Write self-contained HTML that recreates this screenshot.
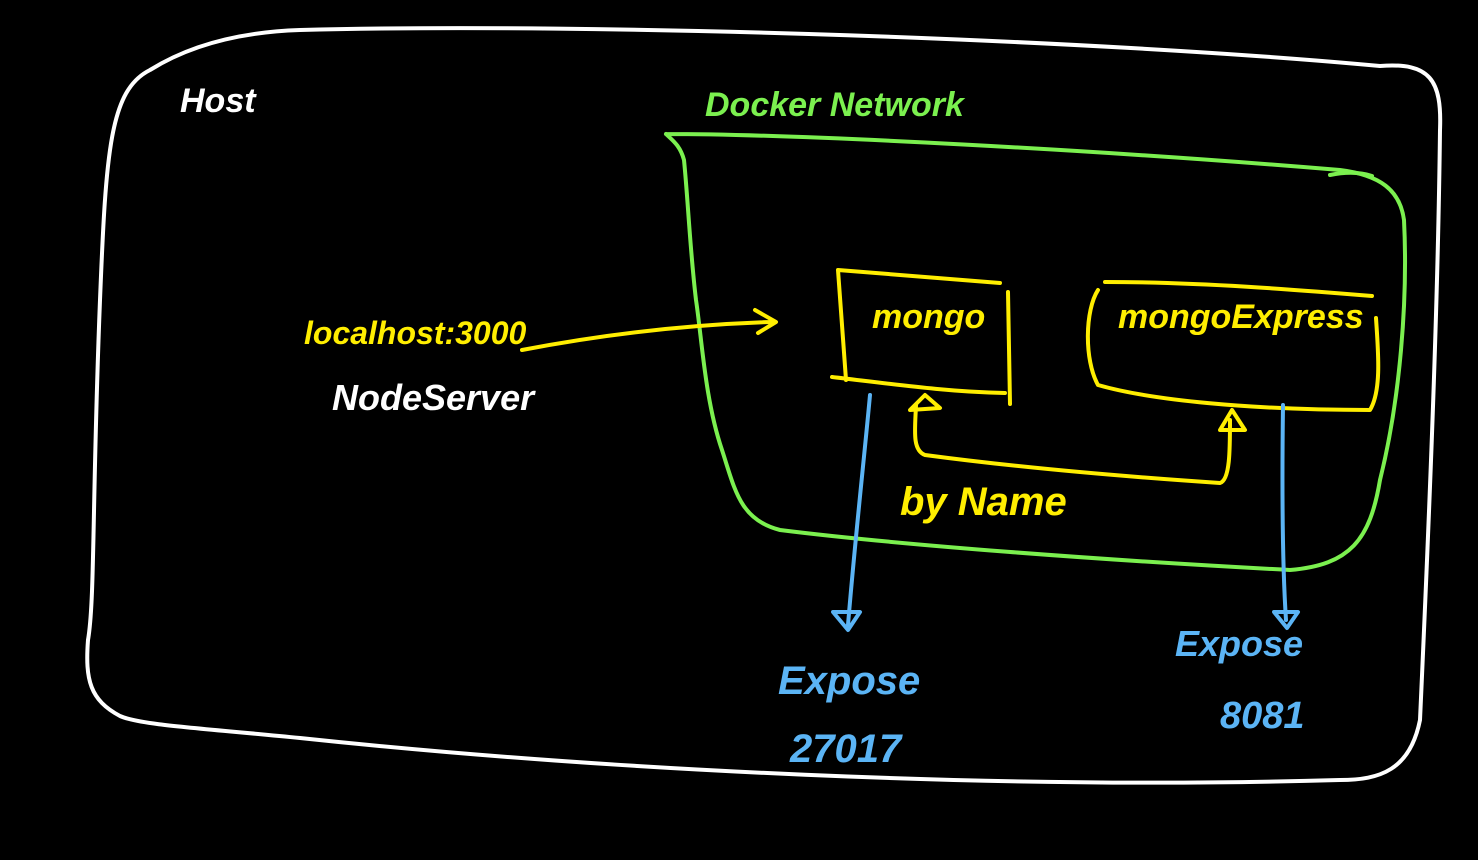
<!DOCTYPE html>
<html><head><meta charset="utf-8"><style>
html,body{margin:0;padding:0;background:#000;}
svg{display:block}
text{font-family:"Liberation Sans",sans-serif;font-style:italic;font-weight:bold;}
</style></head><body>
<svg width="1478" height="860" viewBox="0 0 1478 860" xmlns="http://www.w3.org/2000/svg">
<g fill="none" stroke-linecap="round" stroke-linejoin="round">
<path d="M300,30 C600,22 1100,40 1380,66 C1430,62 1442,80 1440,130 C1438,300 1430,500 1420,720 C1410,770 1380,780 1340,780 C1000,790 600,770 300,738 C200,728 140,725 120,716 C90,700 85,680 88,640 C95,600 92,500 100,300 C106,150 110,90 150,70 C190,45 240,32 300,30 Z" stroke="#fff" stroke-width="4"/>
<path d="M666,134 C800,134 1100,150 1340,170 C1380,175 1400,190 1404,220 C1408,300 1400,400 1380,480 C1370,540 1350,565 1290,570 C1100,560 900,545 780,530 C740,520 735,490 722,450 C705,400 702,340 696,300 C690,250 688,200 684,160 C680,145 672,140 666,134" stroke="#7bf04f" stroke-width="4"/>
<path d="M1330,175 C1345,172 1360,172 1372,176" stroke="#7bf04f" stroke-width="4"/>
<path d="M838,270 L1000,283 M838,270 L846,380 M1008,292 L1010,404 M832,377 C900,385 950,392 1005,393" stroke="#ffee00" stroke-width="4"/>
<path d="M1105,282 C1200,282 1300,290 1372,296 M1098,290 C1085,310 1084,360 1098,385 C1150,400 1250,410 1370,410 C1382,390 1378,350 1376,318" stroke="#ffee00" stroke-width="4"/>
<path d="M916,405 C915,430 912,450 925,455 C1000,465 1100,475 1220,483 C1230,480 1230,450 1230,420" stroke="#ffee00" stroke-width="4"/>
<path d="M910,410 L925,395 L940,408 Z M1220,430 L1232,410 L1245,430 Z" stroke="#ffee00" stroke-width="4"/>
<path d="M522,350 C600,335 680,325 770,322 M755,310 L776,322 L758,333" stroke="#ffee00" stroke-width="4"/>
<path d="M870,395 C865,450 855,540 848,625 M833,612 L848,630 L860,612 Z" stroke="#5bb4f5" stroke-width="4"/>
<path d="M1283,405 C1282,480 1282,560 1286,620 M1274,612 L1287,628 L1298,612 Z" stroke="#5bb4f5" stroke-width="4"/>
</g>
<g font-size="34">
<text x="180" y="112" fill="#fff">Host</text>
<text x="705" y="116" fill="#7bf04f">Docker Network</text>
<text x="304" y="344" fill="#ffee00" font-size="32">localhost:3000</text>
<text x="332" y="410" fill="#fff" font-size="36">NodeServer</text>
<text x="872" y="328" fill="#ffee00">mongo</text>
<text x="1118" y="328" fill="#ffee00">mongoExpress</text>
<text x="900" y="515" fill="#ffee00" font-size="40">by Name</text>
<text x="778" y="694" fill="#5bb4f5" font-size="40">Expose</text>
<text x="790" y="762" fill="#5bb4f5" font-size="40">27017</text>
<text x="1175" y="656" fill="#5bb4f5" font-size="36">Expose</text>
<text x="1220" y="728" fill="#5bb4f5" font-size="38">8081</text>
</g>
</svg>
</body></html>
